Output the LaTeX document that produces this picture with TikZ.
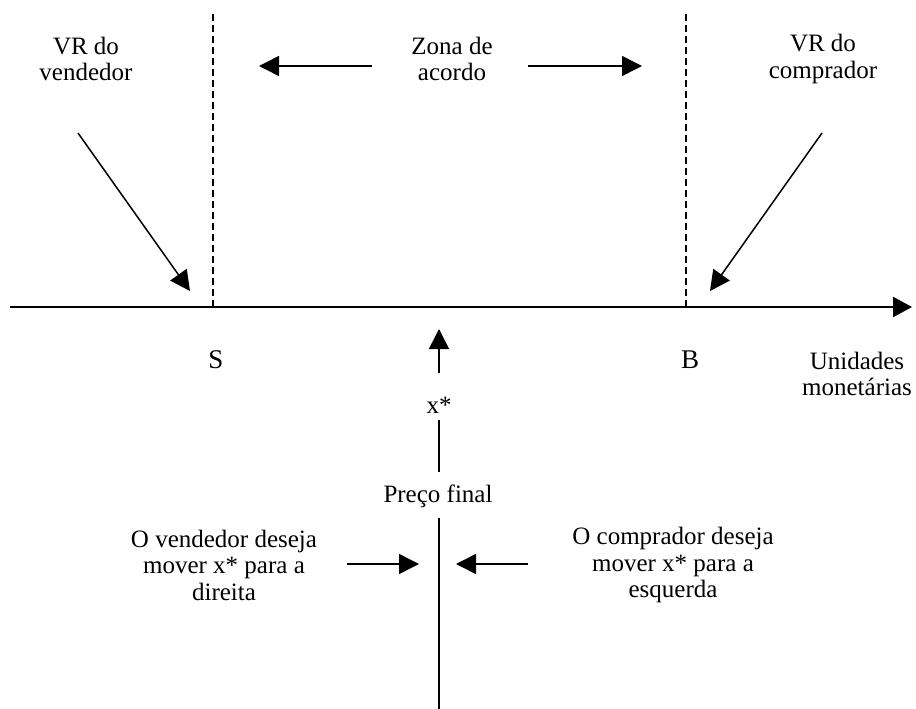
\documentclass[tikz,border=0pt]{standalone}
\usepackage{fontspec}
\setmainfont{Liberation Serif}
\usetikzlibrary{arrows.meta}

\tikzset{
  lbl/.style={align=center, inner sep=0pt, font=\fontsize{25}{26.5}\selectfont},
  endlbl/.style={inner sep=0pt, font=\fontsize{27}{30}\selectfont, anchor=base},
  pointer/.style={line width=1.5pt, -{Triangle[length=20pt,width=20pt]}},
  axisline/.style={line width=2.2pt, -{Triangle[length=19pt,width=20pt]}},
  limit/.style={line width=1.3pt, dash pattern=on 7pt off 4pt},
  stem/.style={line width=2pt}
}

\begin{document}
\begin{tikzpicture}[x=1pt, y=-1pt]
  \useasboundingbox (0,0) rectangle (916,709);

  % price axis
  \coordinate (axL) at (10,307);
  \coordinate (axR) at (912,307);
  \draw[axisline] (axL) -- (axR);

  % reservation values of seller and buyer
  \coordinate (sTop) at (213,14);
  \coordinate (sBot) at (213,307);
  \coordinate (bTop) at (686,14);
  \coordinate (bBot) at (686,307);
  \draw[limit] (sTop) -- (sBot);
  \draw[limit] (bTop) -- (bBot);

  % top labels
  \node[lbl] (vrv) at (86,59) {VR do\\vendedor};
  \node[lbl] (zona) at (452,59) {Zona de\\acordo};
  \node[lbl] (vrc) at (823,59) {VR do\\comprador};

  \coordinate (vrvFrom) at (78,133);
  \coordinate (vrvTo) at (190,291);
  \draw[pointer] (vrvFrom) -- (vrvTo);
  \coordinate (vrcFrom) at (822,133);
  \coordinate (vrcTo) at (710,291);
  \draw[pointer] (vrcFrom) -- (vrcTo);

  \coordinate (zlFrom) at (372,66);
  \coordinate (zlTo) at (259,66);
  \coordinate (zrFrom) at (528,66);
  \coordinate (zrTo) at (642,66);
  \draw[pointer] (zlFrom) -- (zlTo);
  \draw[pointer] (zrFrom) -- (zrTo);

  % axis labels
  \node[endlbl] (S) at (216,368) {S};
  \node[endlbl] (B) at (690,368) {B};
  \node[lbl] (units) at (857,374) {Unidades\\monetárias};

  % final price
  \node[lbl, anchor=base] (xstar) at (439,413) {x*};
  \node[lbl, anchor=base] (preco) at (438,502) {Preço final};

  \coordinate (upFrom) at (439,373);
  \coordinate (upTo) at (439,329);
  \draw[pointer] (upFrom) -- (upTo);
  \coordinate (midTop) at (439,420);
  \coordinate (midBot) at (439,472);
  \draw[stem] (midTop) -- (midBot);
  \coordinate (lowTop) at (439,518);
  \coordinate (lowBot) at (439,709);
  \draw[stem] (lowTop) -- (lowBot);

  % pressure from both sides
  \node[lbl] (vend) at (224,565) {O vendedor deseja\\mover x* para a\\direita};
  \node[lbl] (comp) at (673,565) {O comprador deseja\\mover x* para a\\esquerda};

  \coordinate (vFrom) at (347,564);
  \coordinate (vTo) at (419,564);
  \draw[pointer] (vFrom) -- (vTo);
  \coordinate (cFrom) at (528,564);
  \coordinate (cTo) at (456,564);
  \draw[pointer] (cFrom) -- (cTo);
\end{tikzpicture}
\end{document}
